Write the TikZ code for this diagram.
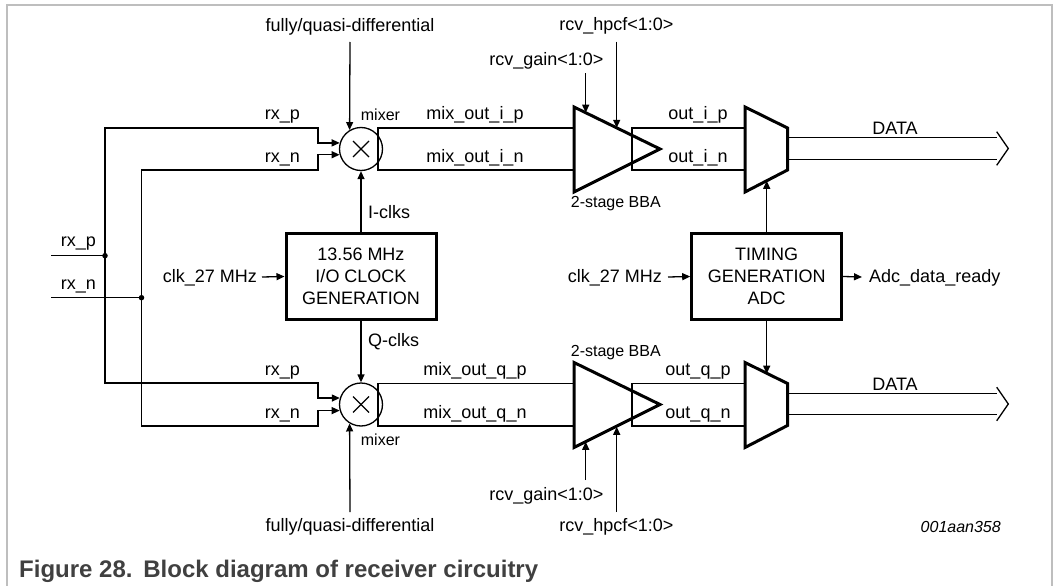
\documentclass[tikz,border=0pt]{standalone}
\usepackage{fontspec}
\setmainfont{Liberation Sans}
\usetikzlibrary{arrows.meta}
\definecolor{framegray}{RGB}{190,190,190}
\definecolor{capgray}{RGB}{64,64,64}
\tikzset{
  wire/.style={line width=1.3pt, line join=miter},
  arr/.style={wire, -{Triangle[length=8pt,width=7pt]}},
  thick3/.style={line width=3pt, line join=miter},
  blk/.style={draw, line width=3pt, minimum width=150pt, minimum height=86pt, inner sep=0pt, align=center,
              font=\fontsize{18}{21.7}\selectfont},
  mixer/.style={draw, circle, line width=1.3pt, minimum size=43pt, inner sep=0pt},
  lbl/.style={font=\fontsize{18}{21.7}\selectfont, inner sep=0pt},
  slbl/.style={font=\fontsize{16}{19}\selectfont, inner sep=0pt},
  dot/.style={circle, fill, minimum size=5.5pt, inner sep=0pt},
}
\begin{document}
\begin{tikzpicture}[x=1pt,y=-1pt]
\useasboundingbox (0,0) rectangle (1061,586);
% frame
\draw[framegray, line width=1.3pt] (7,600) -- (7,5) -- (1052,5) -- (1052,600);

% ---------- blocks ----------
\node[blk] (clk) at (361,276.5) {13.56 MHz\\I/O CLOCK\\GENERATION};
\node[blk] (tim) at (766.7,276.5) {TIMING\\GENERATION\\ADC};
\node[mixer] (m1) at (361,149) {};
\node[mixer] (m2) at (361,404.5) {};
\foreach \m in {m1,m2}{
  \draw[line width=1.2pt] ([shift={(-8,-8)}]\m.center) -- ([shift={(8,8)}]\m.center);
  \draw[line width=1.2pt] ([shift={(-8,8)}]\m.center) -- ([shift={(8,-8)}]\m.center);
}

% amplifiers
\coordinate (a1t) at (574,107); \coordinate (a1b) at (574,192); \coordinate (a1o) at (660,149);
\coordinate (a2t) at (574,362.5); \coordinate (a2b) at (574,447.5); \coordinate (a2o) at (660,404.5);
% muxes
\coordinate (x1a) at (745,107); \coordinate (x1b) at (787.5,128); \coordinate (x1c) at (787.5,170); \coordinate (x1d) at (745,192);
\coordinate (x2a) at (745,362.5); \coordinate (x2b) at (787.5,383.5); \coordinate (x2c) at (787.5,425.5); \coordinate (x2d) at (745,447.5);

% mixer -> amp
\draw[wire] (a1t |- 0,128) -- (378,128) -- (378,170) -- (a1t |- 0,170);
\draw[wire] (a2t |- 0,383.5) -- (378,383.5) -- (378,426) -- (a2t |- 0,426);
% amp -> mux
\draw[wire] (x1a |- 0,128) -- (632,128) -- (632,170) -- (x1a |- 0,170);
\draw[wire] (x2a |- 0,383.5) -- (632,383.5) -- (632,426) -- (x2a |- 0,426);

\draw[thick3] (a1t) -- (a1o) -- (a1b) -- cycle;
\draw[thick3] (a2t) -- (a2o) -- (a2b) -- cycle;
\draw[thick3] (x1a) -- (x1b) -- (x1c) -- (x1d) -- cycle;
\draw[thick3] (x2a) -- (x2b) -- (x2c) -- (x2d) -- cycle;

% DATA buses
\coordinate (d1) at (1008.3,148.5);
\coordinate (d2) at (1008.3,404);
\draw[wire] (787.5,137.7) -- (996.7,137.7);
\draw[wire] (787.5,159.3) -- (996.7,159.3);
\draw[wire] (996.7,131.7) -- (d1) -- (996.7,165.3);
\draw[wire] (787.5,393.2) -- (996.7,393.2);
\draw[wire] (787.5,414.8) -- (996.7,414.8);
\draw[wire] (996.7,387.2) -- (d2) -- (996.7,420.8);
\node[lbl, anchor=base] (data1) at (895,134.3) {DATA};
\node[lbl, anchor=base] (data2) at (895,390) {DATA};

% rx inputs
\coordinate (inp) at (51,255.7);
\coordinate (inn) at (51,297.7);
\node[dot] (jp) at (105,255.7) {};
\node[dot] (jn) at (141.5,297.7) {};
\draw[wire] (inp) -- (jp.center);
\draw[wire] (inn) -- (jn.center);
\node[lbl, anchor=base] at (78.3,246.7) {rx\_p};
\node[lbl, anchor=base] at (78.3,289) {rx\_n};

\draw[arr] (jp.center) -- (105,128) -- (318,128) |- (m1.164);
\draw[arr] (jn.center) -- (141.5,170) -- (318,170) |- (m1.195);
\draw[arr] (jp.center) -- (105,383) -- (318,383) |- (m2.163);
\draw[arr] (jn.center) -- (141.5,426) -- (318,426) |- (m2.196);

\node[lbl, anchor=base] at (282.5,119.3) {rx\_p};
\node[lbl, anchor=base] at (282.5,162.3) {rx\_n};
\node[lbl, anchor=base] at (282.5,375) {rx\_p};
\node[lbl, anchor=base] at (282.5,418.3) {rx\_n};

% fully/quasi-differential
\node[lbl, anchor=base] (fq1) at (350,31.7) {fully/quasi-differential};
\node[lbl, anchor=base] (fq2) at (350,531.7) {fully/quasi-differential};
\draw[arr] (350,42) -- (m1.121);
\draw[arr] (350,512) -- (m2.239);
\node[slbl, anchor=base west] at (360.7,120.7) {mixer};
\node[slbl, anchor=base west] at (360.7,445.7) {mixer};

% clocks
\draw[arr] (clk.north) -- (m1.south);
\node[lbl, anchor=base west] at (368,218.3) {I-clks};
\draw[arr] (clk.south) -- (m2.north);
\node[lbl, anchor=base west] at (368,346) {Q-clks};
\node[lbl, anchor=base east] (c27a) at (257,282.7) {clk\_27 MHz};
\draw[arr] (262,277) -- (clk.west);
\node[lbl, anchor=base east] (c27b) at (662,282.7) {clk\_27 MHz};
\draw[arr] (668,277) -- (tim.west);
\draw[arr] (tim.east) -- (862,277);
\node[lbl, anchor=base west] at (869,282.7) {Adc\_data\_ready};
\draw[arr] (tim.north) -- (766.7,180.8);
\draw[arr] (tim.south) -- (766.7,373.7);

% mix labels
\node[lbl, anchor=base] at (475,119) {mix\_out\_i\_p};
\node[lbl, anchor=base] at (475,162.3) {mix\_out\_i\_n};
\node[lbl, anchor=base] at (475,375) {mix\_out\_q\_p};
\node[lbl, anchor=base] at (475,418.3) {mix\_out\_q\_n};
\node[lbl, anchor=base] at (698,119) {out\_i\_p};
\node[lbl, anchor=base] at (698,162.3) {out\_i\_n};
\node[lbl, anchor=base] at (698,375) {out\_q\_p};
\node[lbl, anchor=base] at (698,418.3) {out\_q\_n};

% amp controls
\node[lbl, anchor=base] at (546.3,65.7) {rcv\_gain<1:0>};
\node[lbl, anchor=base] at (616.3,31) {rcv\_hpcf<1:0>};
\draw[arr] (585.7,73.3) -- (585.7,112.7);
\draw[arr] (616.7,41.7) -- (616.7,127.8);
\node[lbl, anchor=base] at (546.3,500) {rcv\_gain<1:0>};
\node[lbl, anchor=base] at (616.3,531) {rcv\_hpcf<1:0>};
\draw[arr] (585.7,480) -- (585.7,441.8);
\draw[arr] (616.7,512) -- (616.7,426.8);
\node[slbl, anchor=base west] at (570.7,207.3) {2-stage BBA};
\node[slbl, anchor=base west] at (570.7,356) {2-stage BBA};

\node[slbl, anchor=base east] at (1001,532.3) {\itshape 001aan358};
\node[anchor=base west, inner sep=0pt, text=capgray, font=\fontsize{24}{28}\selectfont\bfseries] at (19,577) {Figure 28.\hspace{0.45em}Block diagram of receiver circuitry};
\end{tikzpicture}
\end{document}
